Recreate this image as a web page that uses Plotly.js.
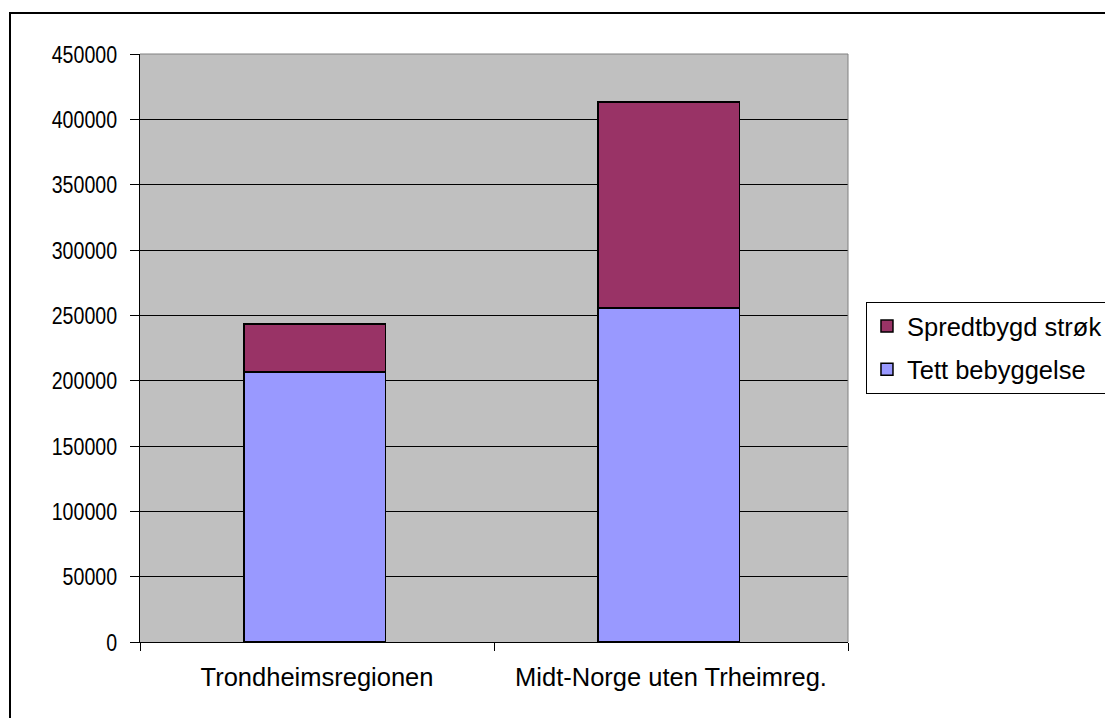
<!DOCTYPE html>
<html>
<head>
<meta charset="utf-8">
<script src="https://cdn.plot.ly/plotly-3.0.1.min.js"></script>
<style>
html,body{margin:0;padding:0;background:#fff;overflow:hidden;}
#frame{position:absolute;left:9px;top:12px;width:1200px;height:800px;border-left:2px solid #000;border-top:2px solid #000;pointer-events:none;z-index:5;}
#chart{position:absolute;left:0;top:0;width:1105px;height:718px;}
</style>
</head>
<body>
<div id="chart"></div>
<div id="frame"></div>
<script>
var categories = ["Trondheimsregionen", "Midt-Norge uten Trheimreg."];
var tettBebyggelse = [206500, 255500];
var spredtbygdStrok = [37000, 157800];
var seriesNames = ["Tett bebyggelse", "Spredtbygd strøk"];
var yTicks = [0, 50000, 100000, 150000, 200000, 250000, 300000, 350000, 400000, 450000];

var font = {family: "Liberation Sans, Arial, sans-serif", size: 25.5, color: "#000"};
var yFont = {family: "Liberation Sans, Arial, sans-serif", size: 24.5, color: "#000"};

var traces = [
  {type: "bar", name: seriesNames[0], x: categories, y: tettBebyggelse, width: 0.4, offset: -0.206,
   legendgroup: "tett", legendrank: 2,
   marker: {color: "#9999FF", line: {color: "#000", width: 1.5}}, hoverinfo: "none"},
  {type: "bar", name: seriesNames[1], x: categories, y: spredtbygdStrok, width: 0.4, offset: -0.206,
   legendgroup: "spredt", legendrank: 1,
   marker: {color: "#993366", line: {color: "#000", width: 1.5}}, hoverinfo: "none"}
];

var layout = {
  width: 1105, height: 718,
  margin: {l: 140, r: 257, t: 54, b: 76, pad: 0, autoexpand: false},
  paper_bgcolor: "#ffffff",
  plot_bgcolor: "#C0C0C0",
  barmode: "stack",
  font: font,
  showlegend: true,
  legend: {
    x: 1.0254, xanchor: "left", y: 0.5, yanchor: "middle",
    traceorder: "grouped",
    tracegroupgap: 7,
    bordercolor: "#000", borderwidth: 1, bgcolor: "#fff",
    font: font
  },
  xaxis: {
    type: "category",
    showline: true, linecolor: "#000", linewidth: 1,
    ticks: "outside", ticklen: 8, tickcolor: "#000", tickwidth: 1,
    tickson: "boundaries",
    ticklabelstandoff: 12,
    showgrid: false, zeroline: false,
    tickfont: font, fixedrange: true
  },
  yaxis: {
    range: [0, 450000],
    tickvals: yTicks,
    ticktext: yTicks.map(String),
    showline: true, linecolor: "#000", linewidth: 1,
    ticks: "outside", ticklen: 9, tickcolor: "#000", tickwidth: 1,
    ticklabelstandoff: 8,
    showgrid: true, gridcolor: "#000", gridwidth: 1,
    zeroline: false,
    tickfont: yFont, fixedrange: true
  },
  shapes: [
    {type: "path", xref: "paper", yref: "paper", path: "M0,1 L1,1 L1,0",
     line: {color: "#808080", width: 1}, layer: "above"}
  ]
};

Plotly.newPlot("chart", traces, layout, {displayModeBar: false, staticPlot: true}).then(function (gd) {
  // the reference's value labels are horizontally condensed
  gd.querySelectorAll(".ytick text").forEach(function (t) {
    var len = t.getComputedTextLength();
    t.setAttribute("textLength", (len * 0.8).toFixed(1));
    t.setAttribute("lengthAdjust", "spacingAndGlyphs");
  });
});
</script>
</body>
</html>
